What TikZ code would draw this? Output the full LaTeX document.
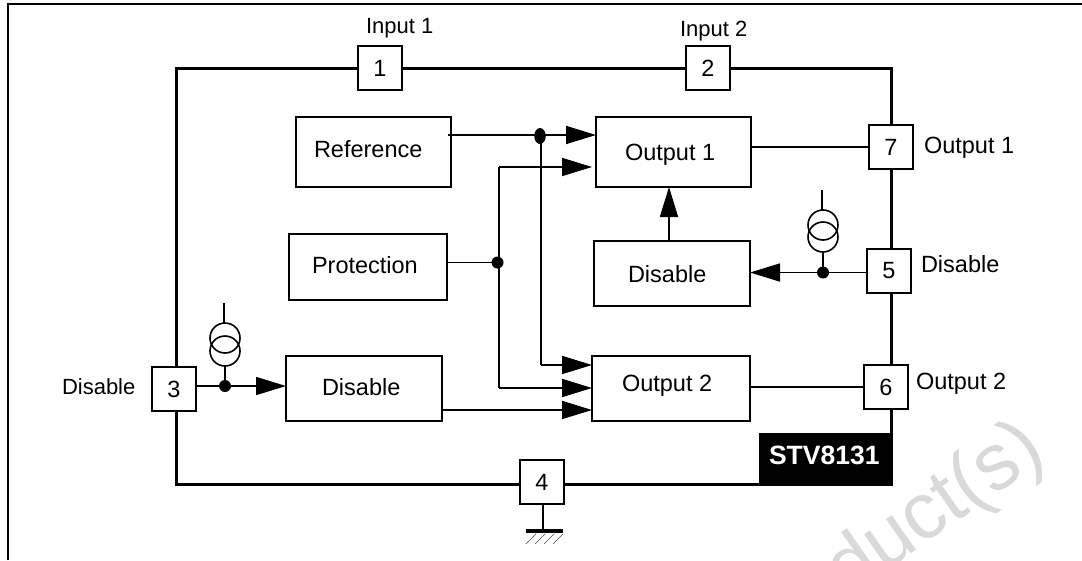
\documentclass[tikz,border=0pt]{standalone}
\usepackage{fontspec}
\setmainfont{Liberation Sans}
\usetikzlibrary{arrows.meta,shapes.geometric}
\tikzset{
  every node/.style={inner sep=0pt,outer sep=0pt,font=\fontsize{23.5}{25}\selectfont},
  blockbox/.style={draw,line width=1.9pt,fill=white},
  pinbox/.style={draw,line width=1.9pt,fill=white,minimum width=44pt,minimum height=44pt},
  wire/.style={line width=1.7pt},
  bigarrow/.style={wire,-{Triangle[length=30pt,width=18pt]}},
  chipline/.style={line width=3pt,line cap=rect},
  junction/.style={circle,fill=black,minimum size=12pt},
  sourcering/.style={circle,draw,line width=1.6pt,minimum size=30pt},
  label/.style={anchor=base west},
  smalllabel/.style={anchor=base west,font=\fontsize{22}{24}\selectfont}
}
\begin{document}
\begin{tikzpicture}[x=1pt,y=-1pt]
\useasboundingbox (0,0) rectangle (1082,560);
% watermark
\begin{scope}
\clip (0,0) rectangle (1082,560);
\node[rotate=35,anchor=base west,text=black!15,font=\fontsize{80}{84}\selectfont] (wm) at (848,598) {duct(s)};
\end{scope}
% outer frame
\coordinate (fa) at (8,560);
\coordinate (fb) at (8,4);
\coordinate (fc) at (1082,4);
\draw[line width=2pt] (fa) -- (fb) -- (fc);
% chip outline
\coordinate (c1) at (176,68);
\coordinate (c2) at (891,68);
\coordinate (c3) at (891,484);
\coordinate (c4) at (176,484);
\draw[chipline] (c1) -- (c2) -- (c3) -- (c4) -- cycle;
% chip name
\node[fill=black,minimum width=134pt,minimum height=53pt] (chip) at (826,459.5) {};
\node[label,text=white,font=\fontsize{26.5}{28}\selectfont\bfseries] (chipname) at (769,464) {STV8131};
% pins
\node[pinbox] (p1) at (380,68) {1};
\node[pinbox] (p2) at (708,68) {2};
\node[pinbox] (p7) at (891,147) {7};
\node[pinbox] (p5) at (889,271) {5};
\node[pinbox] (p6) at (886,387) {6};
\node[pinbox] (p3) at (174,389) {3};
\node[pinbox] (p4) at (542,482) {4};
% blocks
\node[blockbox,minimum width=155pt,minimum height=70pt] (ref) at (373.5,152) {};
\node[blockbox,minimum width=155pt,minimum height=70pt] (out1) at (673.5,152) {};
\node[blockbox,minimum width=158pt,minimum height=66pt] (prot) at (368,267) {};
\node[blockbox,minimum width=156pt,minimum height=65pt] (dis2) at (672,273.5) {};
\node[blockbox,minimum width=156pt,minimum height=65pt] (dis1) at (364,388.5) {};
\node[blockbox,minimum width=158pt,minimum height=65pt] (out2) at (671,388.5) {};
\node[label] (treft) at (314,157) {Reference};
\node[label] (tout1) at (625,160) {Output 1};
\node[label] (tprot) at (312,273) {Protection};
\node[label] (tdis2) at (628,282) {Disable};
\node[label] (tdis1) at (322,395) {Disable};
\node[label] (tout2) at (622,391) {Output 2};
% junctions
\node[ellipse,fill=black,minimum width=11.5pt,minimum height=16pt] (ja) at (540,136) {};
\node[junction] (jb) at (497.5,262.5) {};
\node[junction] (jc) at (225,386) {};
\node[junction] (jd) at (823,272.5) {};
% corner coordinates
\coordinate (ka) at (541,365);
\coordinate (kb) at (499,167);
\coordinate (kc) at (499,388);
\coordinate (kd) at (592,167);
\coordinate (ke) at (541,135);
% wires
\draw[bigarrow] (ref.east |- ke) ++(-3,0) -- (out1.west |- ke);
\draw[wire] (ke) -- (ka);
\draw[bigarrow] (ka) -- (out2.west |- ka);
\draw[bigarrow] (kb) -- (kd);
\draw[wire] (kb) -- (kc);
\draw[bigarrow] (kc) -- (out2.west |- kc);
\draw[line width=1.4pt] (prot.east |- jb) -- (jb);
\draw[bigarrow] (dis1.east |- 0,410) -- (out2.west |- 0,410);
\draw[wire] (out1.east |- p7) -- (p7.west);
\draw[wire] (out2.east |- p6) -- (p6.west);
\draw[bigarrow] (dis2.north -| 669,0) -- (out1.south -| 669,0);
\draw[wire] (p5.west |- jd) -- (jd);
\draw[bigarrow] (jd) -- (dis2.east |- jd);
\draw[wire] (p3.east |- jc) -- (jc);
\draw[bigarrow] (jc) -- (dis1.west |- jc);
% current sources
\node[sourcering] (sa) at (225,338) {};
\node[sourcering] (sb) at (225,351) {};
\coordinate (sc) at (224,303);
\draw[wire] (sc) -- (sa.north -| sc);
\draw[wire] (sb.south) -- (jc);
\node[sourcering] (sd) at (823,225) {};
\node[sourcering] (se) at (823,237) {};
\coordinate (sf) at (822,190);
\draw[wire] (sf) -- (sd.north -| sf);
\draw[wire] (se.south) -- (jd);
% ground
\coordinate (ga) at (543,531);
\draw[line width=1.3pt] (p4.south -| ga) -- (ga);
\coordinate (gb) at (526,531);
\coordinate (gc) at (563,531);
\draw[line width=4.5pt] (gb) -- (gc);
\foreach \gx in {526,535,544,553} \draw[line width=.6pt,black!70] (\gx,544) -- (\gx+10,534);
% labels
\node[smalllabel] (l1) at (366,33) {Input 1};
\node[smalllabel] (l2) at (680,36) {Input 2};
\node[label] (l7) at (924,153) {Output 1};
\node[label] (l5) at (921,272) {Disable};
\node[label] (l6) at (916,389) {Output 2};
\node[smalllabel] (l3) at (62,394) {Disable};
\end{tikzpicture}
\end{document}
